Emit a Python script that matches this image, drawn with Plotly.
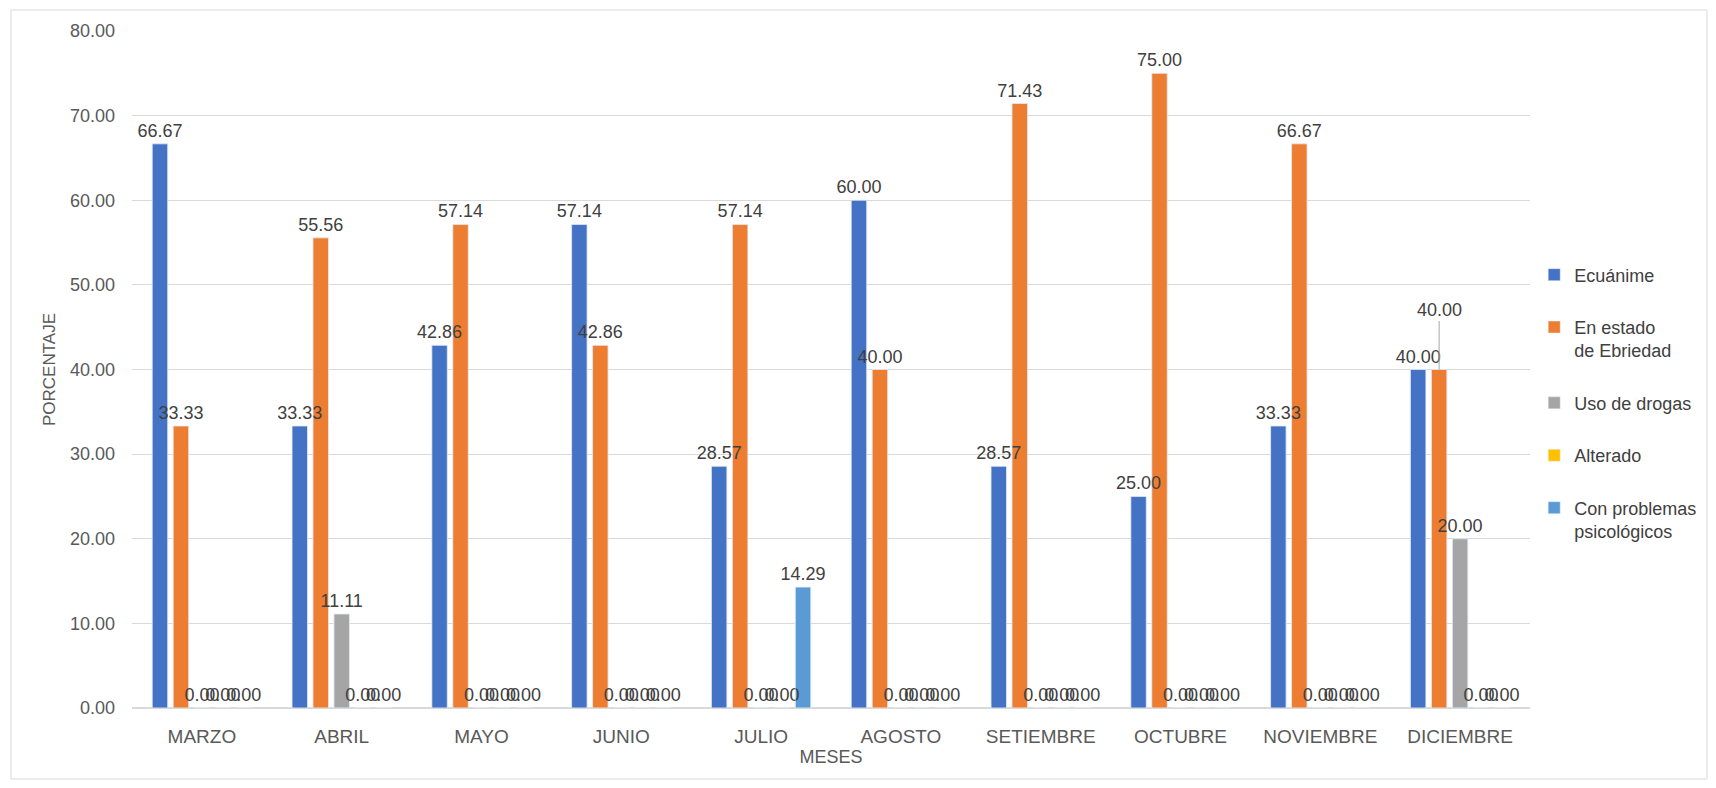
import plotly.graph_objects as go

meses = ["MARZO", "ABRIL", "MAYO", "JUNIO", "JULIO", "AGOSTO", "SETIEMBRE", "OCTUBRE", "NOVIEMBRE", "DICIEMBRE"]
ecuanime = [66.67, 33.33, 42.86, 57.14, 28.57, 60.00, 28.57, 25.00, 33.33, 40.00]
ebriedad = [33.33, 55.56, 57.14, 42.86, 57.14, 40.00, 71.43, 75.00, 66.67, 40.00]
drogas = [0, 11.11, 0, 0, 0, 0, 0, 0, 0, 20.00]
alterado = [0, 0, 0, 0, 0, 0, 0, 0, 0, 0]
psicologicos = [0, 0, 0, 0, 14.29, 0, 0, 0, 0, 0]

series = [
    ("Ecuánime", ecuanime, "#4472C4"),
    ("En estado<br>de Ebriedad", ebriedad, "#ED7D31"),
    ("Uso de drogas", drogas, "#A5A5A5"),
    ("Alterado", alterado, "#FFC000"),
    ("Con problemas<br>psicológicos", psicologicos, "#5B9BD5"),
]

FONT = "Liberation Sans, Arial, sans-serif"
LBL = dict(family=FONT, size=18, color="#404040")

fig = go.Figure()
# bars
for i, (name, vals, col) in enumerate(series):
    fig.add_trace(go.Bar(
        x=meses, y=vals, name=name, marker_color=col,
        offsetgroup=str(i), legendgroup=f"g{i}",
    ))
# data labels drawn on top of all bars (same offset groups, transparent bars)
for i, (name, vals, col) in enumerate(series):
    texts = [f"{v:.2f}" for v in vals]
    if i == 1:
        # DICIEMBRE orange label is lifted with a leader line in the reference
        texts[-1] = ""
    fig.add_trace(go.Bar(
        x=meses, y=vals, name=name, marker_color="rgba(0,0,0,0)",
        offsetgroup=str(i), showlegend=False, hoverinfo="skip",
        text=texts, textposition="outside",
        textfont=LBL, constraintext="none", textangle=0,
        cliponaxis=False,
    ))

# page has an 8px body margin; figure fits inside it
W, H = 1700, 772
l, r, t, b = 124, 178, 23, 72
pw, ph = W - l - r, H - t - b
bargap, bargroupgap = 0.25, 0.26
slot = (pw / len(meses)) * (1 - bargap) / len(series)

fig.add_annotation(
    x=meses[-1], y=ebriedad[-1], xref="x", yref="y",
    text=f"{ebriedad[-1]:.2f}", font=LBL,
    showarrow=True, arrowhead=0, arrowwidth=1, arrowcolor="#A6A6A6",
    ax=0, ay=-60, xshift=-slot, standoff=0,
)

fig.update_layout(
    width=W, height=H,
    margin=dict(l=l, r=r, t=t, b=b, autoexpand=False),
    paper_bgcolor="white", plot_bgcolor="white",
    font=dict(family=FONT, size=18, color="#595959"),
    barmode="group", bargap=bargap, bargroupgap=bargroupgap,
    showlegend=True,
    legend=dict(x=1.003, y=0.667, xanchor="left", yanchor="top",
                font=dict(family=FONT, size=18, color="#404040"),
                tracegroupgap=26, valign="top", itemwidth=30),
    xaxis=dict(showgrid=False, showline=False, ticks="", ticklabelstandoff=15,
               automargin=False,
               title=dict(text="MESES", font=dict(size=18, color="#595959"), standoff=0),
               tickfont=dict(size=19, color="#595959")),
    yaxis=dict(range=[0, 80], dtick=10, tickformat=".2f", showgrid=True,
               gridcolor="#D9D9D9", zeroline=True, zerolinecolor="#D9D9D9",
               automargin=False,
               ticklabelstandoff=16, tickfont=dict(size=18, color="#595959"),
               title=dict(text="PORCENTAJE", font=dict(size=17, color="#595959"), standoff=10)),
    shapes=[dict(type="rect", xref="paper", yref="paper",
                 x0=(3 - l) / pw, x1=(W - 1 - l) / pw,
                 y0=-(H - 1 - (H - b)) / ph, y1=1 + (t - 2) / ph,
                 line=dict(color="#D9D9D9", width=1), layer="below")],
)

fig.write_html("out.html")
